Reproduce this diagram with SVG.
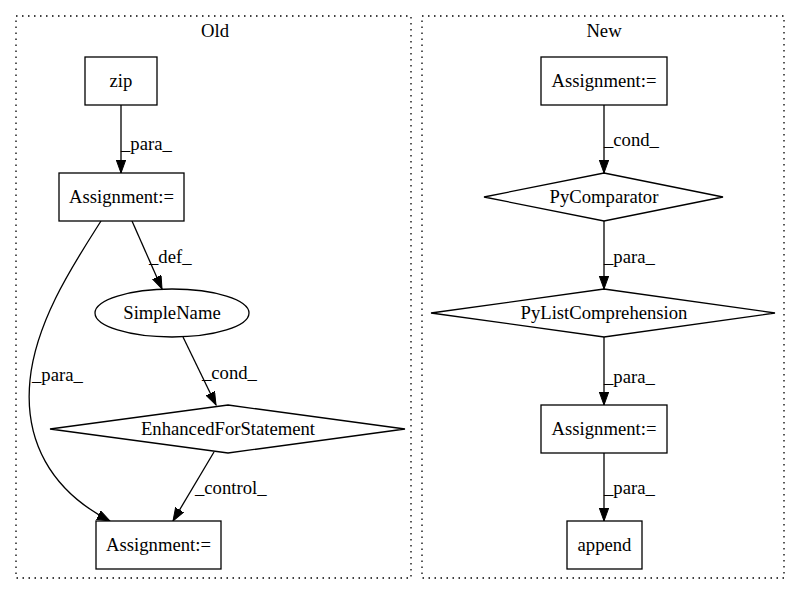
<svg xmlns="http://www.w3.org/2000/svg" width="800" height="596" viewBox="0 0 800 596" font-family="'Liberation Serif', 'DejaVu Serif', serif" font-size="18.67">
<defs>
<marker id="arr" markerUnits="userSpaceOnUse" markerWidth="14" markerHeight="11" refX="13" refY="4.7" orient="auto">
<path d="M0,0 L13,4.7 L0,9.4 z" fill="#000" stroke="#000" stroke-width="1"/>
</marker>
</defs>
<style>
text{font-family:'Liberation Serif','DejaVu Serif',serif;font-size:18.67px;fill:#000}
.n{fill:#fff;stroke:#000;stroke-width:1.3}
.c{fill:none;stroke:#000;stroke-width:1.3;stroke-dasharray:1.5,4.5}
.e{fill:none;stroke:#000;stroke-width:1.3;marker-end:url(#arr)}
.m{text-anchor:middle}
</style>
<rect width="800" height="596" fill="#fff"/>
<g id="cluster_old">
<rect class="c" x="16" y="16" width="395" height="562"/>
<text class="m" x="215" y="37">Old</text>
</g>
<g id="cluster_new">
<rect class="c" x="422" y="16" width="362" height="562"/>
<text class="m" x="604" y="37">New</text>
</g>
<g id="connectors">
<path class="e" d="M121,105 L121,173"/>
<text x="121" y="150">_para_</text>
<path class="e" d="M132,221 L162,289"/>
<text x="149" y="263">_def_</text>
<path class="e" d="M183,337 L216,405"/>
<text x="202" y="379">_cond_</text>
<path class="e" d="M214,452 L173,521"/>
<text x="195" y="494">_control_</text>
<path class="e" d="M101,221 C75,262 36,320 30,380 C24,440 50,490 110,521"/>
<text x="32" y="381">_para_</text>
<path class="e" d="M604,105 L604,173"/>
<text x="604" y="146">_cond_</text>
<path class="e" d="M604,221 L604,289"/>
<text x="604" y="263">_para_</text>
<path class="e" d="M604,337 L604,405"/>
<text x="604" y="383">_para_</text>
<path class="e" d="M604,453 L604,521"/>
<text x="604" y="494">_para_</text>
</g>
<g id="zip">
<rect class="n" x="85" y="57" width="72" height="48"/>
<text class="m" x="121" y="87">zip</text>
</g>
<g id="old_assign1">
<rect class="n" x="59" y="173" width="125" height="48"/>
<text class="m" x="121.5" y="203">Assignment:=</text>
</g>
<g id="simplename">
<ellipse class="n" cx="172" cy="313" rx="77" ry="24"/>
<text class="m" x="172" y="319">SimpleName</text>
</g>
<g id="efs">
<polygon class="n" points="228,405 405,429 228,453 50,429"/>
<text class="m" x="228" y="435">EnhancedForStatement</text>
</g>
<g id="old_assign2">
<rect class="n" x="96" y="521" width="125" height="48"/>
<text class="m" x="158.5" y="551">Assignment:=</text>
</g>
<g id="new_assign1">
<rect class="n" x="541" y="57" width="126" height="48"/>
<text class="m" x="604" y="87">Assignment:=</text>
</g>
<g id="pycomparator">
<polygon class="n" points="604,173 723,197 604,221 484,197"/>
<text class="m" x="604" y="203">PyComparator</text>
</g>
<g id="pylistcomp">
<polygon class="n" points="604,289 775,313 604,337 431,313"/>
<text class="m" x="604" y="319">PyListComprehension</text>
</g>
<g id="new_assign2">
<rect class="n" x="541" y="405" width="126" height="48"/>
<text class="m" x="604" y="435">Assignment:=</text>
</g>
<g id="append">
<rect class="n" x="567" y="521" width="75" height="48"/>
<text class="m" x="604.5" y="551">append</text>
</g>
</svg>
